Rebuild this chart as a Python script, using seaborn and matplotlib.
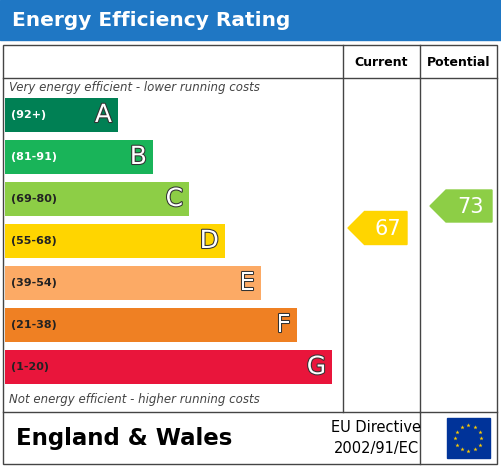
import matplotlib
matplotlib.use("Agg")
import matplotlib.pyplot as plt
import matplotlib.patheffects as pe
from matplotlib.patches import Rectangle, Polygon
import seaborn as sns
import pandas as pd
import numpy as np

bands = ["A", "B", "C", "D", "E", "F", "G"]
ranges = ["(92+)", "(81-91)", "(69-80)", "(55-68)", "(39-54)", "(21-38)", "(1-20)"]
bar_lengths = [113, 148, 184, 220, 256, 292, 327]
colors = ["#008054", "#19b459", "#8dce46", "#ffd500", "#fcaa65", "#ef8023", "#e9153b"]
current = 67
potential = 73
current_band = 3
potential_band = 2

W, H = 502, 467
fig = plt.figure(figsize=(W/100, H/100), dpi=100)
ax0 = fig.add_axes([0, 0, 1, 1])
ax0.set_xlim(0, W); ax0.set_ylim(H, 0); ax0.axis("off")

ax0.add_patch(Rectangle((0, 0), W, 40, color="#1f77c4", zorder=1))
ax0.text(12, 21, "Energy Efficiency Rating", color="white", fontsize=14.5,
         fontweight="bold", va="center", ha="left", family="DejaVu Sans")
lc = "#444444"
ax0.add_patch(Rectangle((3, 45), 494, 419, fill=False, ec=lc, lw=1))
ax0.plot([343, 343], [45, 412], color=lc, lw=1)
ax0.plot([420, 420], [45, 412], color=lc, lw=1)
ax0.plot([3, 497], [78, 78], color=lc, lw=1)
ax0.plot([3, 497], [412, 412], color=lc, lw=1)
ax0.plot([420, 420], [412, 464], color=lc, lw=1)
ax0.text(381, 62, "Current", ha="center", va="center", fontsize=9, fontweight="bold")
ax0.text(459, 62, "Potential", ha="center", va="center", fontsize=9, fontweight="bold")
ax0.text(9, 88, "Very energy efficient - lower running costs", fontsize=8.5,
         style="italic", color="#444444", va="center")
ax0.text(9, 400, "Not energy efficient - higher running costs", fontsize=8.5,
         style="italic", color="#444444", va="center")
ax0.text(16, 438, "England & Wales", fontsize=16.5, fontweight="bold", va="center")
ax0.text(376, 428, "EU Directive", fontsize=10.5, ha="center", va="center")
ax0.text(376, 448, "2002/91/EC", fontsize=10.5, ha="center", va="center")
ax0.add_patch(Rectangle((447, 418), 43, 40, color="#003399"))
for k in range(12):
    a = 2*np.pi*k/12
    ax0.plot(468.5 + 13*np.cos(a), 438 + 13*np.sin(a), marker="*", color="#ffcc00",
             ms=3.2, mew=0)

top, bot = 94, 388
ax = fig.add_axes([5/W, 1 - bot/H, 338/W, (bot-top)/H])
ax.patch.set_alpha(0)
df = pd.DataFrame({"band": bands, "length": bar_lengths})
sns.barplot(data=df, x="length", y="band", hue="band", palette=colors,
            orient="h", width=0.81, legend=False, ax=ax, saturation=1)
ax.set_xlim(0, 338); ax.set_ylim(6.5, -0.5); ax.axis("off")
for i, (b, r, l) in enumerate(zip(bands, ranges, bar_lengths)):
    ax.text(6, i, r, fontsize=8, fontweight="bold",
            color="white" if i in (0, 1) else "#222222", va="center")
    ax.text(l - 6, i, b, fontsize=18, color="white", ha="right", va="center",
            path_effects=[pe.withStroke(linewidth=1.5, foreground="#333333")])

def band_center(i):
    return 115 + 42*i

def arrow(x0, x1, yc, h, val, col):
    pts = [(x0, yc), (x0 + h/2, yc - h/2), (x1, yc - h/2), (x1, yc + h/2), (x0 + h/2, yc + h/2)]
    ax0.add_patch(Polygon(pts, color=col))
    ax0.text((x0 + h/2 + x1)/2 + 2, yc + 1, str(val), color="white", fontsize=15,
             ha="center", va="center")

arrow(348, 407, band_center(current_band) - 13, 33, current, colors[current_band])
arrow(430, 492, band_center(potential_band) + 7, 32, potential, colors[potential_band])

fig.savefig("out.png", dpi=100)
